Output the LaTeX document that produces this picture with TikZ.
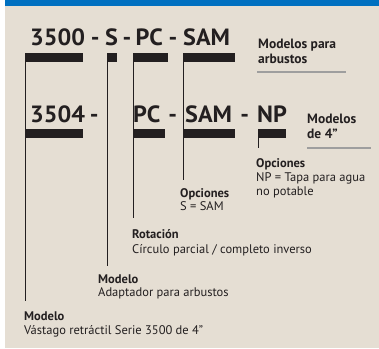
\documentclass[tikz,border=0pt]{standalone}
\usepackage{fontspec}
\setmainfont{PT Sans}
\newfontfamily\codefont[FakeStretch=1.03]{PT Sans}
\usepackage{xcolor}
\usetikzlibrary{positioning,calc}

\definecolor{bandblue}{RGB}{0,112,192}
\definecolor{paper}{RGB}{229,222,211}
\definecolor{ink}{RGB}{35,31,32}
\definecolor{rulegray}{RGB}{158,158,158}

\begin{document}
\begin{tikzpicture}[x=1pt, y=-1pt,
  code/.style={font=\codefont\fontsize{23.5}{28}\selectfont\bfseries, text=ink, inner sep=0, anchor=base west},
  hyph/.style={code, anchor=base},
  bar/.style={fill=ink, inner sep=0, minimum height=8.5pt, anchor=north west},
  lead/.style={draw=ink, line width=1pt},
  head/.style={font=\fontsize{12.5}{14}\selectfont\bfseries, text=ink, inner sep=0, anchor=base west},
  desc/.style={font=\fontsize{12.5}{14}\selectfont, text=ink, inner sep=0, anchor=base west, align=left},
  note/.style={font=\fontsize{13.5}{15}\selectfont\bfseries, text=ink, inner sep=0, anchor=base west, align=left},
  sep/.style={draw=rulegray, line width=1.3pt}
]
  % background
  \fill[white] (0,0) rectangle (379,348);
  \fill[paper] (5,0) rectangle (379,348);
  \fill[bandblue] (5,0) rectangle (379,6);
  \useasboundingbox (0,0) rectangle (379,348);

  % model codes, first row
  \node[code] (c3500) at (30,45) {3500};
  \node[code] (cs) at (105,45) {S};
  \node[code] (cpc) at (135.5,45) {PC};
  \node[code] (csam) at (183,45) {SAM};
  \node[hyph] (d1a) at ($(c3500.base east)!0.5!(cs.base west)$) {-};
  \node[hyph] (d1b) at ($(cs.base east)!0.5!(cpc.base west)$) {-};
  \node[hyph] (d1c) at ($(cpc.base east)!0.5!(csam.base west)$) {-};
  % model codes, second row
  \node[code] (c3504) at (30,122) {3504};
  \node[code] (cpc2) at (133,122) {PC};
  \node[code] (csam2) at (185,122) {SAM};
  \node[code] (cnp) at (257,122) {NP};
  \node[hyph] (d2a) at ($(c3504.base east)+(9,0)$) {-};
  \node[hyph] (d2b) at ($(cpc2.base east)!0.5!(csam2.base west)$) {-};
  \node[hyph] (d2c) at ($(csam2.base east)!0.5!(cnp.base west)$) {-};

  % bars under the code parts
  \node[bar, minimum width=58pt] (bseries) at (25,53) {};
  \node[bar, minimum width=10pt] (bshrub) at (106.5,53) {};
  \node[bar, minimum width=35pt] (brot) at (133,53) {};
  \node[bar, minimum width=52pt] (bopt) at (183,53) {};
  \node[bar, minimum width=58pt] (bseries2) at (25,129) {};
  \node[bar, minimum width=32pt] (brot2) at (133,129) {};
  \node[bar, minimum width=52pt] (bopt2) at (183,129) {};
  \node[bar, minimum width=28pt] (bnp) at (258,129) {};

  % side notes
  \node[note] (shrubs) at (258,63) {Modelos para\\arbustos};
  \node[note] (four) at (307,138) {Modelos\\de 4"};
  \draw[sep] (257,72) -- (346,72);
  \draw[sep] (307,148) -- (371,148);

  % labels
  \node[head] (hnp) at (256,167) {Opciones};
  \node[desc] (dnp) at (256,195) {NP = Tapa para agua\\no potable};
  \node[head] (hsam) at (180,197) {Opciones};
  \node[desc] (dsam) at (180,210) {S = SAM};
  \node[head] (hrot) at (132,238) {Rotación};
  \node[desc] (drot) at (132,253) {Círculo parcial / completo inverso};
  \node[head] (hshrub) at (98,283) {Modelo};
  \node[desc] (dshrub) at (98,296) {Adaptador para arbustos};
  \node[head] (hseries) at (24,320) {Modelo};
  \node[desc] (dseries) at (24,334) {Vástago retráctil Serie 3500 de 4"};

  % leader ends
  \coordinate (enp) at (258.5,148);
  \coordinate (esam) at (183.5,180);
  \coordinate (erot) at (133.5,218);
  \coordinate (eshrub) at (107,266);
  \coordinate (eseries) at (25.5,301);

  % leaders
  \draw[lead] ([xshift=0.5pt]bnp.south west) -- (enp);
  \draw[lead] ([xshift=0.5pt]bopt.south west) -- (esam);
  \draw[lead] ([xshift=0.5pt]brot.south west) -- (erot);
  \draw[lead] ([xshift=0.5pt]bshrub.south west) -- (eshrub);
  \draw[lead] ([xshift=0.5pt]bseries.south west) -- (eseries);
\end{tikzpicture}
\end{document}
